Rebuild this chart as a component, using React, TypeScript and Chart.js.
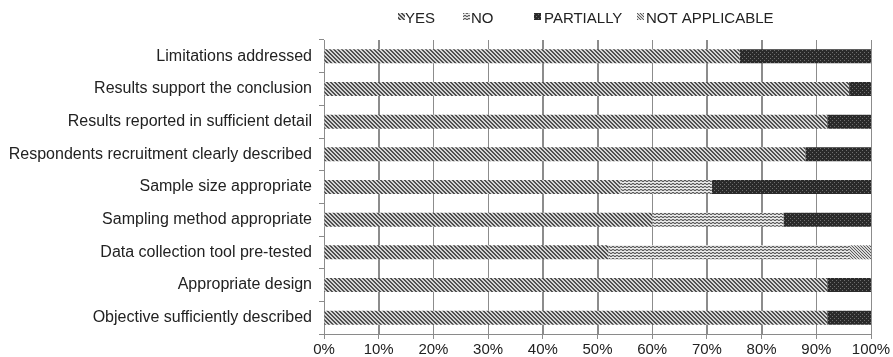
import { useEffect, useRef } from "react";
import { Chart, registerables } from "chart.js";

Chart.register(...registerables);

// Quality-appraisal items, listed top to bottom
const categories = [
  "Limitations addressed",
  "Results support the conclusion",
  "Results reported in sufficient detail",
  "Respondents recruitment clearly described",
  "Sample size appropriate",
  "Sampling method appropriate",
  "Data collection tool pre-tested",
  "Appropriate design",
  "Objective sufficiently described",
];

// Share of studies (%) per answer
const yesValues = [76, 96, 92, 88, 54.2, 60, 52, 92, 92];
const noValues = [0, 0, 0, 0, 16.7, 24, 44, 0, 0];
const partiallyValues = [24, 4, 8, 12, 29.1, 16, 0, 8, 8];
const notApplicableValues = [0, 0, 0, 0, 0, 0, 4, 0, 0];

const seriesNames = ["YES", "NO", "PARTIALLY", "NOT APPLICABLE"];
const xTickStep = 10;

const FONT = "'Liberation Sans', Arial, Helvetica, sans-serif";
const GRID_COLOR = "#8c8c8c";

// Legend marker / text x positions along the top row
const legendSlots = [
  { marker: 398, text: 405 },
  { marker: 463, text: 471 },
  { marker: 534, text: 544 },
  { marker: 637, text: 646 },
];

type PixelFn = (x: number, y: number) => string;

function makePattern(w: number, h: number, fn: PixelFn) {
  const tile = document.createElement("canvas");
  tile.width = w;
  tile.height = h;
  const t = tile.getContext("2d")!;
  for (let y = 0; y < h; y++) {
    for (let x = 0; x < w; x++) {
      t.fillStyle = fn(x, y);
      t.fillRect(x, y, 1, 1);
    }
  }
  return t.createPattern(tile, "repeat")!;
}

const mod = (a: number, n: number) => ((a % n) + n) % n;

// Vertical grid lines at every x tick, drawn under the bars
const verticalGridPlugin = {
  id: "verticalGrid",
  beforeDatasetsDraw(chart: any) {
    const { ctx, chartArea, scales } = chart;
    const xs = scales.x;
    ctx.save();
    ctx.strokeStyle = GRID_COLOR;
    ctx.lineWidth = 1;
    ctx.beginPath();
    xs.ticks.forEach((t: any) => {
      const px = Math.round(xs.getPixelForValue(t.value)) + 0.5;
      ctx.moveTo(px, chartArea.top);
      ctx.lineTo(px, chartArea.bottom);
    });
    ctx.stroke();
    ctx.restore();
  },
};

export default function App() {
  const canvasRef = useRef<HTMLCanvasElement | null>(null);

  useEffect(() => {
    document.body.style.margin = "0";

    // diagonal hatch
    const yesFill = makePattern(4, 4, (x, y) => (mod(x - y, 4) < 2 ? "#505050" : "#d4d4d4"));
    // wavy horizontal lines
    const noFill = makePattern(4, 3, (x, y) => {
      if (y === 0) return x < 2 ? "#5e5e5e" : "#c4c4c4";
      if (y === 1) return x < 2 ? "#c4c4c4" : "#5e5e5e";
      return "#ececec";
    });
    // dark dotted
    const partialFill = makePattern(4, 4, (x, y) =>
      (x === 0 && y === 0) || (x === 2 && y === 2) ? "#6e6e6e" : "#2a2a2a"
    );
    // light diagonal hatch
    const naFill = makePattern(3, 3, (x, y) => (mod(x - y, 3) === 0 ? "#5a5a5a" : "#d8d8d8"));

    const fills = [yesFill, noFill, partialFill, naFill];
    const series = [yesValues, noValues, partiallyValues, notApplicableValues];

    const legendPlugin = {
      id: "topLegend",
      afterDraw(chart: Chart) {
        const c = chart.ctx;
        c.save();
        chart.data.datasets.forEach((ds, i) => {
          const slot = legendSlots[i];
          c.fillStyle = fills[i];
          c.fillRect(slot.marker, 13, 7, 7);
          c.fillStyle = "#222";
          c.font = `15px ${FONT}`;
          c.textBaseline = "alphabetic";
          c.textAlign = "left";
          c.fillText(String(ds.label), slot.text, 23);
        });
        c.restore();
      },
    };

    const chart = new Chart(canvasRef.current!, {
      type: "bar",
      data: {
        labels: categories,
        datasets: seriesNames.map((name, i) => ({
          label: name,
          data: series[i],
          backgroundColor: fills[i] as any,
          barPercentage: 0.43,
          categoryPercentage: 1,
        })),
      },
      options: {
        indexAxis: "y",
        responsive: false,
        animation: false,
        layout: { padding: { top: 40, right: 22 } },
        plugins: {
          legend: { display: false },
          tooltip: { enabled: false },
        },
        scales: {
          x: {
            stacked: true,
            min: 0,
            max: 100,
            afterFit(scale: any) {
              scale.height = 23;
            },
            ticks: {
              stepSize: xTickStep,
              color: "#222",
              padding: 2,
              font: { family: FONT, size: 15 },
              callback: (v: any) => `${v}%`,
            },
            grid: { color: GRID_COLOR, lineWidth: 1, tickLength: 5 },
            border: { color: "#8a8a8a" },
          },
          y: {
            stacked: true,
            afterFit(scale: any) {
              scale.width = 324;
            },
            ticks: {
              color: "#222",
              padding: 7,
              font: { family: FONT, size: 16 },
            },
            grid: { offset: true, drawOnChartArea: false, color: "#8a8a8a", tickLength: 5 },
            border: { color: "#8a8a8a" },
          },
        },
      },
      plugins: [verticalGridPlugin, legendPlugin],
    });

    return () => chart.destroy();
  }, []);

  return <canvas ref={canvasRef} width={893} height={357} style={{ display: "block" }} />;
}
